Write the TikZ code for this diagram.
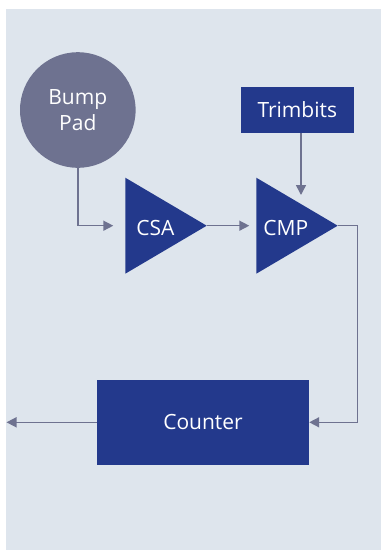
\documentclass[tikz,border=0pt]{standalone}
\usepackage{fontspec}
\setmainfont{Open Sans}
\usetikzlibrary{arrows.meta}
\definecolor{bgpanel}{HTML}{DEE5ED}
\definecolor{boxblue}{HTML}{23398C}
\definecolor{linegray}{HTML}{6E7290}
\begin{document}
\begin{tikzpicture}[x=1pt,y=-1pt,
  lbl/.style={text=white,font=\fontsize{21}{25.7}\selectfont,inner sep=0pt},
  conn/.style={draw=linegray,line width=1.5pt,-{Triangle[length=10pt,width=10pt]}},
  wire/.style={draw=linegray,line width=1.5pt}]
\useasboundingbox[fill=white] (0,0) rectangle (381,550);
\fill[bgpanel] (6,9) rectangle (381,550);
% Bump pad
\node[circle,fill=linegray,minimum size=115.6pt,inner sep=0pt] (pad) at (77.8,110) {};
\node[lbl,align=center] (padl) at (77.8,110) {Bump\\Pad};
% Trimbits
\node[fill=boxblue,minimum width=112.7pt,minimum height=45.7pt,inner sep=0pt,lbl] (trim) at (297.3,109.8) {Trimbits};
% CSA triangle
\fill[boxblue] (125.3,177.7) -- (206.7,225.7) -- (125.3,273.7) -- cycle;
\coordinate (csain) at (125.3,225.7);
\coordinate (csaout) at (206.7,225.7);
\node[lbl] (csa) at (155.5,227.5) {CSA};
% CMP triangle
\fill[boxblue] (256.3,177.7) -- (337.7,225.7) -- (256.3,273.7) -- cycle;
\coordinate (cmpin) at (256.3,225.7);
\coordinate (cmpout) at (337.7,225.7);
\coordinate (cmptop) at (301,204);
\node[lbl] (cmp) at (285.8,227.5) {CMP};
% Counter
\node[fill=boxblue,minimum width=212pt,minimum height=84.7pt,inner sep=0pt,lbl] (cnt) at (203,422.3) {Counter};
\coordinate (outend) at (6.5,422.3);
% connectors
\draw[conn,shorten >=12pt] (pad.south) |- (csain);
\draw[conn,shorten >=7pt] (csaout) -- (cmpin);
\draw[conn,shorten >=9pt] (trim.south -| cmptop) -- (cmptop);
\draw[conn] (cmpout) -- ++(19.6,0) |- (cnt.east);
\draw[conn] (cnt.west) -- (outend);
\end{tikzpicture}
\end{document}
